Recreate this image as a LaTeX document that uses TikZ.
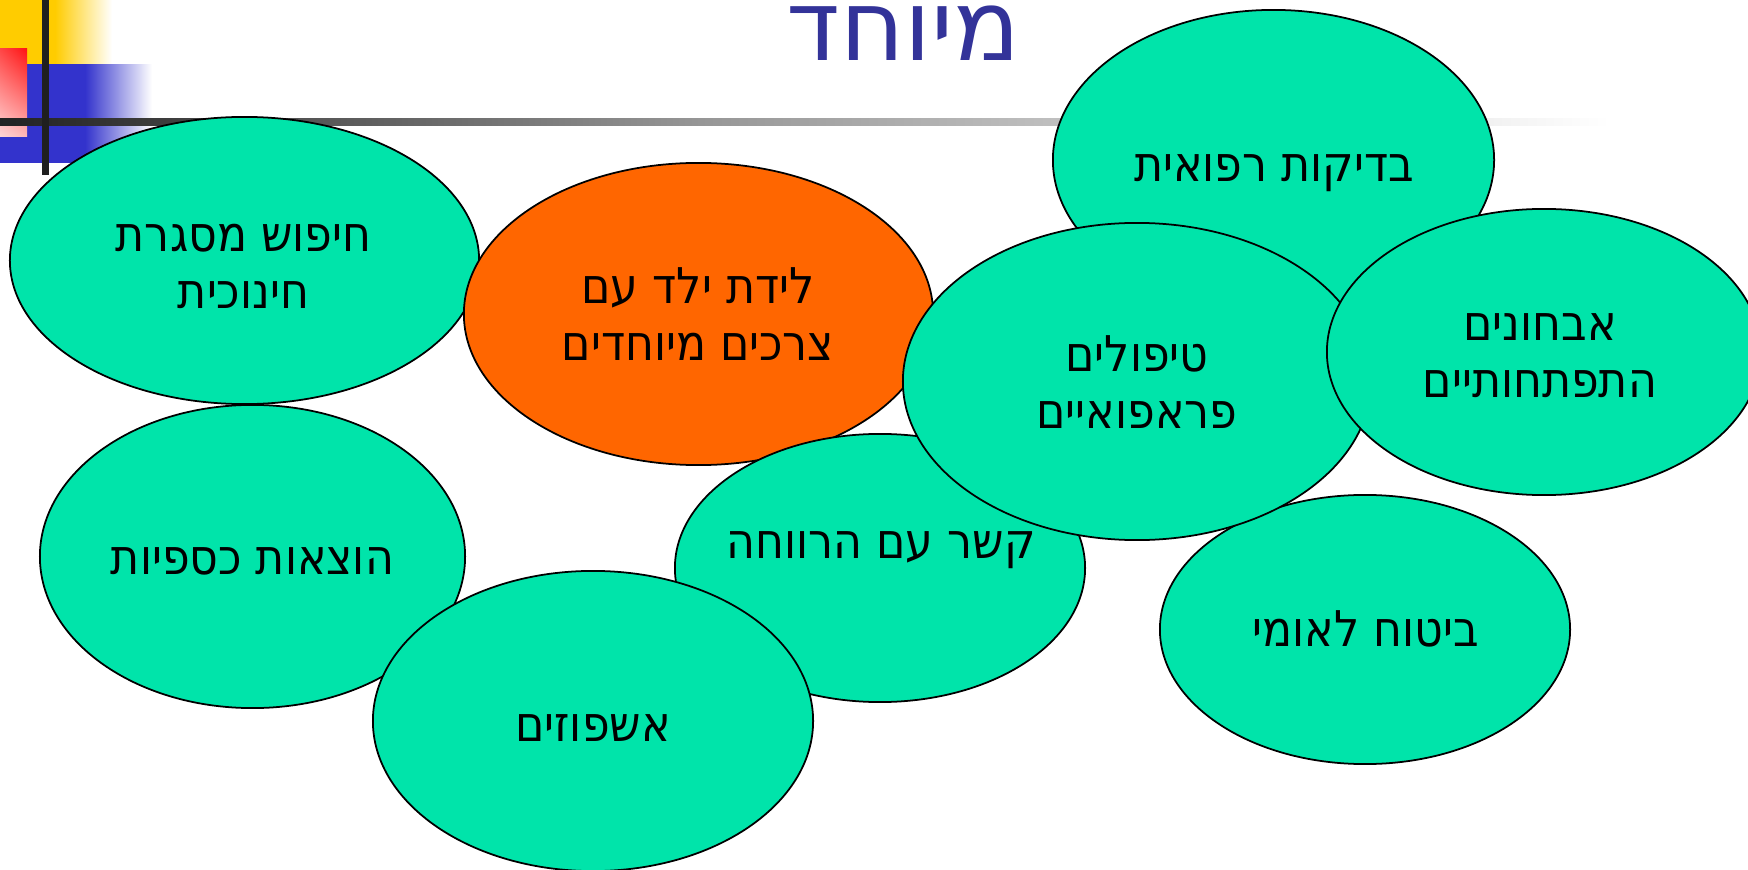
\documentclass[tikz,border=0pt]{standalone}
\usepackage{fontspec}
\usetikzlibrary{shapes.geometric,shadings}
\TeXXeTstate=1
\newfontfamily\hebfont[Script=Hebrew]{DejaVu Sans Condensed}
\newfontfamily\hebtitlefont[Script=Hebrew]{DejaVu Sans}
\definecolor{blobgreen}{RGB}{0,228,170}
\definecolor{bloborange}{RGB}{255,102,0}
\definecolor{titleblue}{RGB}{51,51,153}
\definecolor{decoyellow}{RGB}{255,204,0}
\definecolor{decoblue}{RGB}{51,51,204}
\definecolor{redA}{RGB}{255,70,70}
\definecolor{redB}{RGB}{255,20,20}
\definecolor{redC}{RGB}{255,215,215}
\definecolor{redD}{RGB}{255,185,185}
\definecolor{barDark}{RGB}{34,34,34}
\definecolor{barMid}{RGB}{150,150,150}
\newcommand{\mystrut}{\vrule height 0.75em depth 0.25em width 0pt}
\newcommand{\heb}[1]{\mystrut\beginR #1\endR}
\tikzset{
  blob/.style={ellipse, draw=black, line width=0.5pt, fill=blobgreen, inner sep=0pt},
  hotblob/.style={blob, fill=bloborange},
  lbl/.style={font=\hebfont\fontsize{14}{16.3}\selectfont, align=center, inner sep=0pt, text=black},
  ttl/.style={font=\hebtitlefont\fontsize{28}{34}\selectfont, text=titleblue, inner sep=0pt, anchor=base}
}
\begin{document}
\begin{tikzpicture}[x=0.01cm,y=-0.01cm]
\clip (0,0) rectangle (1748,870);
\fill[white] (0,0) rectangle (1748,870);
% decorations
\fill[decoyellow] (0,0) rectangle (55,64);
\shade[left color=decoyellow, right color=white] (55,0) rectangle (112,64);
\fill[decoblue] (0,64) rectangle (85,163);
\shade[left color=decoblue, right color=white] (85,65) rectangle (152,163);
\shade[upper left=redA, upper right=redB, lower left=redC, lower right=redD] (0,49) rectangle (27,137);
\shade[left color=barDark, right color=barMid] (0,119) rectangle (700,126);
\shade[left color=barMid, right color=white] (700,119) rectangle (1610,126);
\fill[black!88] (42,0) rectangle (49,175);
% title
\node[ttl] (title) at (903.5,61) {\beginR מיוחד\endR};
% blobs
\node[blob, minimum width=4.69cm, minimum height=2.87cm] (e1) at (244.5,260.5) {};
\node[lbl] (t1) at (243.5,268) {\heb{חיפוש מסגרת}\\\heb{חינוכית}};
\node[blob, minimum width=4.41cm, minimum height=3.00cm] (e3) at (1273.5,160) {};
\node[lbl] (t3) at (1274,169) {\heb{בדיקות רפואית}};
\node[hotblob, minimum width=4.69cm, minimum height=3.02cm] (e2) at (698.5,314) {};
\node[lbl] (t2) at (698,320) {\heb{לידת ילד עם}\\\heb{צרכים מיוחדים}};
\node[blob, minimum width=4.10cm, minimum height=2.68cm] (e6) at (880,568) {};
\node[lbl] (t6) at (881,546) {\heb{קשר עם הרווחה}};
\node[blob, minimum width=4.10cm, minimum height=2.69cm] (e7) at (1365,629.5) {};
\node[lbl] (t7) at (1366,634) {\heb{ביטוח לאומי}};
\node[blob, minimum width=4.68cm, minimum height=3.17cm] (e4) at (1137,381.5) {};
\node[lbl] (t4) at (1137,388) {\heb{טיפולים}\\\heb{פראפואיים}};
\node[blob, minimum width=4.34cm, minimum height=2.86cm] (e5) at (1544,352) {};
\node[lbl] (t5) at (1540,357) {\heb{אבחונים}\\\heb{התפתחותיים}};
\node[blob, minimum width=4.25cm, minimum height=3.03cm] (e8) at (252.5,556.5) {};
\node[lbl] (t8) at (252.5,562) {\heb{הוצאות כספיות}};
\node[blob, minimum width=4.40cm, minimum height=3.00cm] (e9) at (593,721) {};
\node[lbl] (t9) at (593,729) {\heb{אשפוזים}};
\end{tikzpicture}
\end{document}
